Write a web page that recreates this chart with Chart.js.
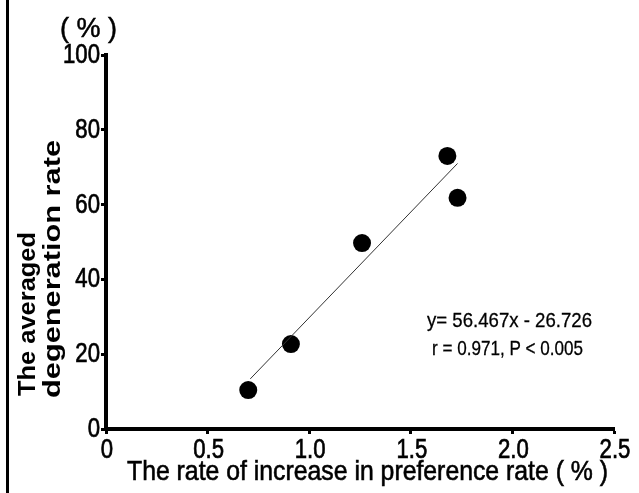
<!DOCTYPE html>
<html>
<head>
<meta charset="utf-8">
<script src="https://cdn.jsdelivr.net/npm/chart.js@4"></script>
<style>
  html, body { margin: 0; padding: 0; background: #fff; }
  canvas { display: block; }
</style>
</head>
<body>
<canvas id="c" width="639" height="493"></canvas>
<script>
// ---- data ----
const xValues = [0.70, 0.91, 1.26, 1.68, 1.73];
const yValues = [10.4, 22.7, 49.7, 73.0, 61.8];
const fitX = [0.71, 1.73];
const fitY = [13.4, 71.0];
const xTicks = [0, 0.5, 1.0, 1.5, 2.0, 2.5];
const xTickLabels = ['0', '0.5', '1.0', '1.5', '2.0', '2.5'];
const yTicks = [0, 20, 40, 60, 80, 100];
const yTickLabels = ['0', '20', '40', '60', '80', '100'];
const yTitleLines = ['The averaged', 'degeneration rate'];
const xTitle = 'The rate of increase in preference rate ( % )';
const yUnit = '( % )';
const equationText = 'y= 56.467x - 26.726';
const statsText = 'r = 0.971, P < 0.005';

const BASE = '"Liberation Sans", Arial, sans-serif';
const NARROW_SCALE = 0.82;   // emulate a condensed face

function drawText(ctx, text, x, y, font, opts) {
  opts = opts || {};
  ctx.save();
  ctx.font = font;
  ctx.textBaseline = 'alphabetic';
  ctx.textAlign = 'left';
  ctx.fillStyle = '#000';
  ctx.strokeStyle = '#000';
  const w = ctx.measureText(text).width;
  const sx = opts.width ? opts.width / w : (opts.scale || 1);
  const drawnW = w * sx;
  ctx.translate(x, y);
  if (opts.rotate) ctx.rotate(-Math.PI / 2);
  let dx = 0;
  if (opts.align === 'center') dx = -drawnW / 2;
  else if (opts.align === 'right') dx = -drawnW;
  ctx.translate(dx, 0);
  ctx.scale(sx, 1);
  ctx.fillText(text, 0, 0);
  if (opts.stroke) {
    ctx.lineWidth = opts.stroke;
    ctx.strokeText(text, 0, 0);
  }
  ctx.restore();
}

const decor = {
  id: 'decor',
  beforeDraw(chart) {
    const ctx = chart.ctx;
    ctx.save();
    ctx.fillStyle = '#fff';
    ctx.fillRect(0, 0, chart.width, chart.height);
    ctx.fillStyle = '#000';
    ctx.fillRect(6, 0, 3, chart.height);
    ctx.restore();
  },
  afterDraw(chart) {
    const ctx = chart.ctx;
    const xs = chart.scales.x, ys = chart.scales.y;
    const tickFont = '27px ' + BASE;
    // tick labels placed through the library's scales
    xTicks.forEach((v, i) => {
      drawText(ctx, xTickLabels[i], xs.getPixelForValue(v) + 1, xs.bottom - 64 + 29, tickFont,
        { align: 'center', scale: NARROW_SCALE, stroke: 0.7 });
    });
    yTicks.forEach((v, i) => {
      drawText(ctx, yTickLabels[i], ys.right - 6, ys.getPixelForValue(v) + 8, tickFont,
        { align: 'right', scale: NARROW_SCALE, stroke: 0.7 });
    });
    drawText(ctx, yUnit, 60, 37, '27px ' + BASE, { width: 57, stroke: 0.5 });
    drawText(ctx, yTitleLines[0], 35, 396, 'bold 23px ' + BASE, { width: 164, rotate: true });
    drawText(ctx, yTitleLines[1], 60, 398, 'bold 23px ' + BASE, { width: 258, rotate: true });
    drawText(ctx, xTitle, 127, 480, '28px ' + BASE, { width: 481, stroke: 0.6 });
    drawText(ctx, equationText, 427, 327, '21px ' + BASE, { width: 165, stroke: 0.3 });
    drawText(ctx, statsText, 432, 355, '21px ' + BASE, { width: 151, stroke: 0.3 });
  }
};

const points = xValues.map((x, i) => ({ x: x, y: yValues[i] }));
const fitLine = fitX.map((x, i) => ({ x: x, y: fitY[i] }));

new Chart(document.getElementById('c'), {
  type: 'scatter',
  data: {
    datasets: [
      {
        type: 'line',
        data: fitLine,
        borderColor: '#333',
        borderWidth: 1,
        pointRadius: 0,
        fill: false,
        tension: 0
      },
      {
        data: points,
        backgroundColor: '#000',
        borderColor: '#000',
        borderWidth: 0,
        pointRadius: 9,
        pointHoverRadius: 9
      }
    ]
  },
  options: {
    responsive: false,
    animation: false,
    devicePixelRatio: 1,
    layout: { padding: { left: 0, right: 25, top: 55, bottom: 0 } },
    plugins: { legend: { display: false }, tooltip: { enabled: false } },
    scales: {
      x: {
        type: 'linear',
        min: 0, max: 2.5,
        afterBuildTicks: s => { s.ticks = xTicks.map(v => ({ value: v })); },
        afterFit: s => { s.height = 64; },
        ticks: { display: false, autoSkip: false },
        grid: { display: true, drawOnChartArea: false, drawTicks: true, tickLength: 5, tickWidth: 3, tickColor: '#000' },
        border: { display: true, color: '#000', width: 4 }
      },
      y: {
        type: 'linear',
        min: 0, max: 100,
        afterBuildTicks: s => { s.ticks = yTicks.map(v => ({ value: v })); },
        afterFit: s => { s.width = 106; },
        ticks: { display: false, autoSkip: false },
        grid: { display: true, drawOnChartArea: false, drawTicks: true, tickLength: 5, tickWidth: 3, tickColor: '#000' },
        border: { display: true, color: '#000', width: 4 }
      }
    }
  },
  plugins: [decor]
});
</script>
</body>
</html>
